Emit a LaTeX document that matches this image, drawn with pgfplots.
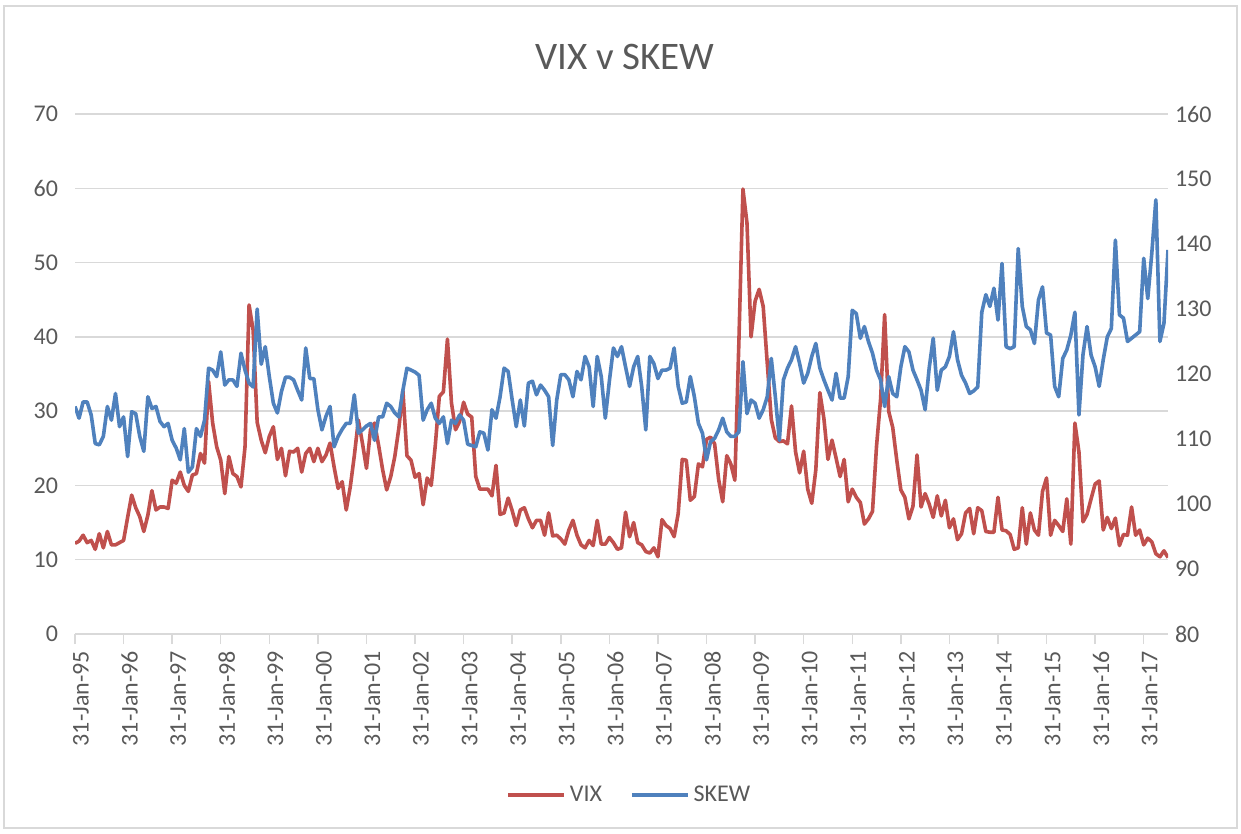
\documentclass[border=0pt]{standalone}
\usepackage{pgfplots}
\pgfplotsset{compat=1.18}
\usepackage{pgfplotstable}
\usepackage{fontspec}
\setmainfont{Carlito}
\definecolor{vixred}{HTML}{C0504D}
\definecolor{skewblue}{HTML}{4F81BD}
\definecolor{txt}{HTML}{595959}
\definecolor{gridc}{HTML}{D9D9D9}

\pgfplotstableread{
i vix skew
0 12.2 115.0
1 12.5 113.2
2 13.3 115.7
3 12.3 115.7
4 12.6 113.7
5 11.4 109.3
6 13.5 109.1
7 11.6 110.4
8 13.8 115.0
9 12.0 112.9
10 12.0 117.0
11 12.3 111.9
12 12.6 113.4
13 15.7 107.3
14 18.7 114.2
15 17.0 113.9
16 15.8 110.4
17 13.8 108.1
18 16.0 116.5
19 19.3 114.7
20 16.7 115.0
21 17.1 112.7
22 17.1 111.9
23 16.9 112.4
24 20.7 109.8
25 20.3 108.6
26 21.8 106.8
27 20.0 111.6
28 19.2 104.9
29 21.4 105.7
30 21.6 111.6
31 24.3 110.4
32 23.0 112.9
33 34.0 120.9
34 28.4 120.6
35 25.2 119.6
36 23.4 123.4
37 18.9 118.3
38 23.9 119.1
39 21.6 119.1
40 21.2 118.1
41 19.8 123.2
42 25.2 120.6
43 44.3 118.6
44 40.9 118.0
45 28.5 130.0
46 26.1 121.5
47 24.4 124.2
48 26.6 119.6
49 27.9 115.5
50 23.5 114.0
51 25.0 117.3
52 21.3 119.5
53 24.6 119.5
54 24.5 119.1
55 25.0 117.5
56 21.8 116.0
57 24.3 124.0
58 25.0 119.3
59 23.2 119.3
60 25.0 114.5
61 23.2 111.4
62 24.1 113.5
63 25.7 115.0
64 22.5 108.8
65 19.6 110.4
66 20.5 111.5
67 16.7 112.4
68 19.8 112.4
69 24.0 116.8
70 28.8 110.9
71 25.7 111.4
72 22.3 112.0
73 27.5 112.4
74 28.4 109.8
75 25.4 113.4
76 22.1 113.4
77 19.4 115.5
78 21.2 115.0
79 23.9 114.0
80 27.7 113.4
81 32.8 117.5
82 24.0 120.9
83 23.4 120.6
84 21.1 120.3
85 21.6 119.8
86 17.4 112.9
87 21.0 114.5
88 20.0 115.5
89 25.4 113.2
90 32.0 112.4
91 32.6 113.4
92 39.7 109.3
93 31.1 112.9
94 27.5 112.4
95 28.6 113.7
96 31.2 112.9
97 29.6 109.2
98 29.2 109.0
99 21.2 108.8
100 19.5 111.1
101 19.5 110.9
102 19.5 108.3
103 18.6 114.5
104 22.7 113.2
105 16.1 116.5
106 16.3 120.9
107 18.3 120.4
108 16.6 116.0
109 14.6 111.9
110 16.7 116.0
111 17.0 112.0
112 15.5 118.6
113 14.3 118.9
114 15.3 116.8
115 15.3 118.3
116 13.3 117.5
117 16.3 116.5
118 13.2 109.0
119 13.3 116.0
120 12.8 119.9
121 12.1 119.9
122 14.0 119.1
123 15.3 116.5
124 13.3 120.4
125 12.0 119.1
126 11.6 122.7
127 12.6 121.1
128 11.9 115.0
129 15.3 122.7
130 12.1 119.6
131 12.1 113.2
132 13.0 118.9
133 12.3 124.0
134 11.4 122.7
135 11.6 124.2
136 16.4 121.1
137 13.1 118.1
138 15.0 121.1
139 12.3 122.7
140 12.0 118.0
141 11.1 111.4
142 10.9 122.7
143 11.6 121.6
144 10.4 119.3
145 15.4 120.6
146 14.6 120.6
147 14.2 120.9
148 13.1 124.0
149 16.2 118.1
150 23.5 115.5
151 23.4 115.7
152 18.0 119.6
153 18.5 116.5
154 22.9 112.4
155 22.5 110.9
156 26.2 106.8
157 26.5 109.6
158 25.6 110.1
159 20.8 111.4
160 17.8 113.2
161 24.0 111.1
162 22.9 110.4
163 20.7 110.4
164 39.4 111.1
165 59.9 121.9
166 55.3 113.9
167 40.0 116.0
168 44.8 115.5
169 46.4 113.2
170 44.1 114.5
171 36.5 116.5
172 28.9 122.4
173 26.4 116.5
174 25.9 109.8
175 26.0 119.1
176 25.6 120.9
177 30.7 122.2
178 24.5 124.2
179 21.7 121.6
180 24.6 118.6
181 19.5 120.1
182 17.6 122.7
183 22.1 124.7
184 32.5 120.9
185 29.0 119.1
186 23.5 117.5
187 26.1 116.0
188 23.7 120.1
189 21.2 116.3
190 23.5 116.3
191 17.8 119.6
192 19.5 129.8
193 18.4 129.3
194 17.7 125.5
195 14.8 127.3
196 15.5 125.0
197 16.5 123.2
198 25.3 120.6
199 31.6 119.1
200 43.0 115.0
201 30.0 119.6
202 27.8 117.0
203 23.4 116.5
204 19.4 121.1
205 18.4 124.2
206 15.5 123.4
207 17.2 120.6
208 24.1 119.1
209 17.1 117.5
210 18.9 114.5
211 17.5 120.9
212 15.7 125.5
213 18.6 117.5
214 15.9 120.6
215 18.0 121.1
216 14.3 122.7
217 15.5 126.5
218 12.7 122.2
219 13.5 119.8
220 16.3 118.6
221 16.9 117.0
222 13.5 117.4
223 17.0 118.0
224 16.6 129.5
225 13.8 132.2
226 13.7 130.4
227 13.7 133.2
228 18.4 128.3
229 14.0 137.0
230 13.9 124.2
231 13.4 123.9
232 11.4 124.2
233 11.6 139.3
234 17.0 130.4
235 12.1 127.3
236 16.3 126.8
237 14.0 124.7
238 13.3 131.4
239 19.2 133.4
240 21.0 126.3
241 13.3 126.0
242 15.3 118.1
243 14.6 116.5
244 13.8 122.4
245 18.2 123.7
246 12.1 126.0
247 28.4 129.5
248 24.5 113.7
249 15.1 123.0
250 16.1 127.3
251 18.2 122.9
252 20.2 121.1
253 20.6 118.1
254 14.0 122.2
255 15.7 125.7
256 14.2 127.0
257 15.6 140.6
258 11.9 129.1
259 13.4 128.6
260 13.3 125.0
261 17.1 125.5
262 13.3 126.0
263 14.0 126.5
264 12.0 137.8
265 12.9 131.6
266 12.4 138.6
267 10.8 146.8
268 10.4 125.0
269 11.2 127.8
270 10.3 139.1
}\datatable

\pgfplotsset{
  common/.style={
    at={(37.5pt,-317pt)}, anchor=south west,
    scale only axis, width=546.5pt, height=260pt,
    xmin=0, xmax=270,
    /pgf/number format/assume math mode=true,
    ticklabel style={font=\fontsize{12}{14}\selectfont, text=txt},
    y axis line style={draw=none},
    ytick style={draw=none},
    axis line style={-},
  }
}

\begin{document}
\begin{tikzpicture}
\path[fill=white] (0pt,0pt) rectangle (620.5pt,-417pt);
\draw[gridc, line width=0.6pt] (2pt,-3pt) rectangle (618.5pt,-414pt);
\node[text=txt, font=\fontsize{19.5}{23}\selectfont] at (312.5pt,-28.5pt) {VIX v SKEW};

\begin{axis}[common,
  ymin=0, ymax=70, ytick={0,10,...,70},
  axis x line*=bottom, axis y line*=left,
  x axis line style={draw=gridc, line width=0.75pt},
  xtick={0,12,...,264},
  xticklabels={31-Jan-95,31-Jan-96,31-Jan-97,31-Jan-98,31-Jan-99,31-Jan-00,31-Jan-01,31-Jan-02,31-Jan-03,31-Jan-04,31-Jan-05,31-Jan-06,31-Jan-07,31-Jan-08,31-Jan-09,31-Jan-10,31-Jan-11,31-Jan-12,31-Jan-13,31-Jan-14,31-Jan-15,31-Jan-16,31-Jan-17},
  xticklabel style={rotate=90, anchor=east, yshift=-3pt},
  xtick style={draw=gridc, line width=0.75pt},
  tick align=outside, major tick length=5pt,
  ymajorgrids, major grid style={draw=gridc, line width=0.75pt},
  legend style={at={(0.508,-0.31)}, anchor=center, draw=none, fill=none,
    legend columns=2, font=\fontsize{12}{14}\selectfont, text=txt,
    /tikz/every even column/.append style={column sep=12pt}},
  legend image code/.code={\draw[#1] (0pt,0pt) -- (28pt,0pt);},
]
\addplot[vixred, line width=1.8pt, line join=round, no markers] table[x=i, y=vix]{\datatable};
\addlegendentry{VIX}
\addlegendimage{skewblue, line width=1.8pt}
\addlegendentry{SKEW}
\end{axis}

\begin{axis}[common,
  ymin=80, ymax=160, ytick={80,90,...,160},
  axis x line=none, axis y line*=right,
]
\addplot[skewblue, line width=1.8pt, line join=round, no markers] table[x=i, y=skew]{\datatable};
\end{axis}
\end{tikzpicture}
\end{document}
